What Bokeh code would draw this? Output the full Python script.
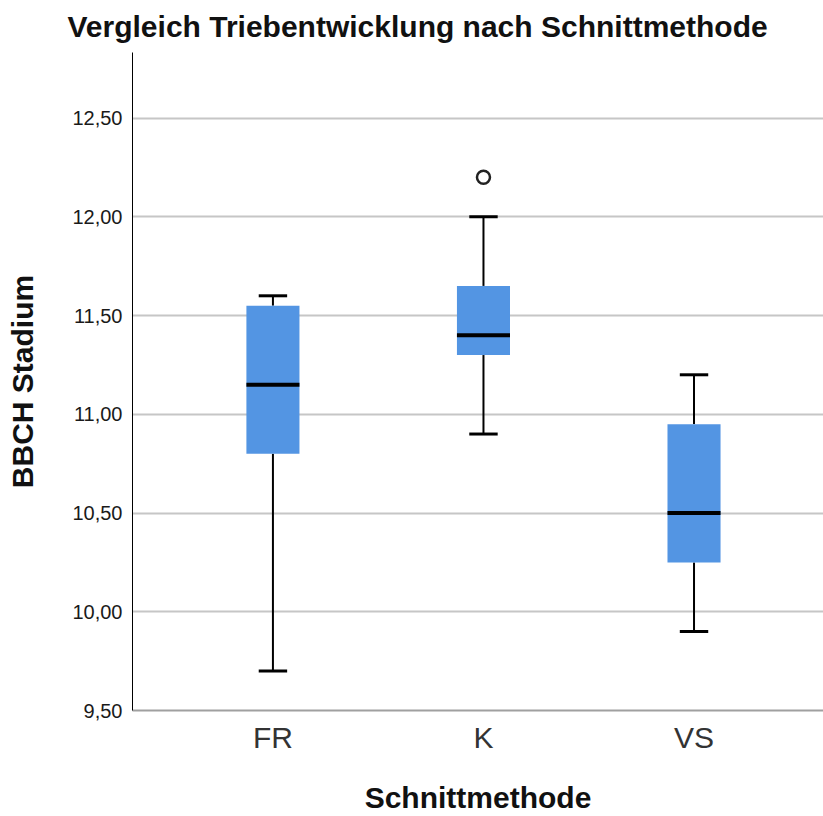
from bokeh.plotting import figure
from bokeh.models import FixedTicker, Range1d
from bokeh.embed import file_html
from bokeh.resources import INLINE

# ---- data ----
categories = ["FR", "K", "VS"]
q1 = [10.80, 11.30, 10.25]
median = [11.15, 11.40, 10.50]
q3 = [11.55, 11.65, 10.95]
whisker_low = [9.70, 10.90, 9.90]
whisker_high = [11.60, 12.00, 11.20]
outlier_cat = ["K"]
outlier_val = [12.20]
y_ticks = [9.5, 10.0, 10.5, 11.0, 11.5, 12.0, 12.5]
y_tick_labels = ["9,50", "10,00", "10,50", "11,00", "11,50", "12,00", "12,50"]
title_text = "Vergleich Triebentwicklung nach Schnittmethode"
x_title = "Schnittmethode"
y_title = "BBCH Stadium"

# ---- styles ----
FONT = "Liberation Sans"
BOX_COLOR = "#5395E3"
BOX_W = 0.252
CAP_W = 0.135

xs = list(range(1, len(categories) + 1))
pos = dict(zip(categories, xs))

W, H = 823, 816
p = figure(width=W, height=H, output_backend="svg", toolbar_location=None,
           x_range=Range1d(0.333, 3.615), y_range=Range1d(9.5, 12.832),
           min_border_left=132, min_border_right=0, min_border_top=52,
           min_border_bottom=106)
p.outline_line_color = None
p.background_fill_color = "white"
p.border_fill_color = "white"

# title
p.title.text = title_text
p.title.text_font = FONT
p.title.text_font_style = "bold"
p.title.text_font_size = "30px"
p.title.text_color = "#111111"
p.title.align = "left"
p.title.offset = -65
p.title.vertical_align = "top"
p.title.standoff = 16

# whisker stems
p.segment(x0=xs, y0=q3, x1=xs, y1=whisker_high, line_color="black", line_width=2)
p.segment(x0=xs, y0=q1, x1=xs, y1=whisker_low, line_color="black", line_width=2)
# caps
p.rect(x=xs, y=whisker_high, width=CAP_W, height=3, height_units="screen",
       fill_color="black", line_color=None)
p.rect(x=xs, y=whisker_low, width=CAP_W, height=3, height_units="screen",
       fill_color="black", line_color=None)
# boxes
p.vbar(x=xs, width=BOX_W, bottom=q1, top=q3, fill_color=BOX_COLOR, line_color=None)
# medians
p.rect(x=xs, y=median, width=BOX_W, height=4, height_units="screen",
       fill_color="black", line_color=None)
# outliers
p.scatter(x=[pos[c] for c in outlier_cat], y=outlier_val, marker="circle", size=13,
          fill_color="white", line_color="#222222", line_width=2.5)

# axes
p.xaxis.ticker = FixedTicker(ticks=xs)
p.xaxis.major_label_overrides = {x: c for x, c in zip(xs, categories)}
p.xaxis.major_label_text_font = FONT
p.xaxis.major_label_text_font_size = "30px"
p.xaxis.major_label_text_color = "#333333"
p.xaxis.major_label_standoff = 4
p.xaxis.major_tick_line_color = None
p.xaxis.minor_tick_line_color = None
p.xaxis.axis_line_color = "#a0a0a0"
p.xaxis.axis_line_width = 2
p.xaxis.axis_label = x_title
p.xaxis.axis_label_text_font = FONT
p.xaxis.axis_label_text_font_style = "bold"
p.xaxis.axis_label_text_font_size = "30px"
p.xaxis.axis_label_text_color = "#111111"
p.xaxis.axis_label_standoff = 24

p.yaxis.ticker = FixedTicker(ticks=y_ticks)
p.yaxis.major_label_overrides = dict(zip(y_ticks, y_tick_labels))
p.yaxis.major_label_text_font = FONT
p.yaxis.major_label_text_font_size = "20px"
p.yaxis.major_label_text_color = "#1a1a1a"
p.yaxis.major_label_standoff = 4
p.yaxis.major_tick_line_color = None
p.yaxis.minor_tick_line_color = None
p.yaxis.axis_line_color = "black"
p.yaxis.axis_line_width = 1
p.yaxis.axis_label = y_title
p.yaxis.axis_label_text_font = FONT
p.yaxis.axis_label_text_font_style = "bold"
p.yaxis.axis_label_text_font_size = "30px"
p.yaxis.axis_label_text_color = "#111111"
p.yaxis.axis_label_standoff = 30

p.xgrid.grid_line_color = None
p.ygrid.ticker = FixedTicker(ticks=y_ticks)
p.ygrid.grid_line_color = "#c6c6c6"
p.ygrid.grid_line_width = 2

open("out.html", "w").write(file_html(p, INLINE))
